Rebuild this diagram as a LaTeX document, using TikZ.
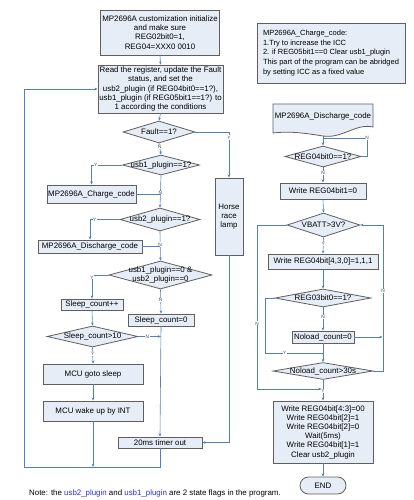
\documentclass[tikz,border=0pt]{standalone}
\usepackage{fontspec}
\setmainfont{Liberation Sans}
\usetikzlibrary{shapes.geometric,arrows.meta}
\definecolor{boxfill}{RGB}{230,237,247}
\definecolor{boxline}{RGB}{95,95,95}
\definecolor{conn}{RGB}{79,129,189}
\definecolor{notecol}{RGB}{45,45,215}
\begin{document}
\begin{tikzpicture}[x=1pt,y=-1pt,
  every node/.style={font=\fontsize{7.9}{9.2}\selectfont},
  box/.style={draw=boxline,fill=boxfill,line width=0.8pt,inner sep=1pt,align=center},
  dia/.style={draw=boxline,fill=boxfill,line width=0.8pt,shape=diamond,inner sep=0pt},
  dtxt/.style={align=center,inner sep=0pt},
  yn/.style={font=\fontsize{4.8}{5}\selectfont,text=black!70,fill=white,inner sep=0.4pt},
  cn/.style={draw=conn,line width=0.6pt},
  arr/.style={cn,-{Stealth[length=3.2pt,width=2.6pt]}}
]
\useasboundingbox (0,0) rectangle (414,500);

% ---------------- left column ----------------
\node[box,minimum width=119pt,minimum height=45pt] (b1) at (160,32.5)
  {MP2696A customization initialize\\and make sure\\REG02bit0=1,\\REG04=XXX0 0010};
\node[box,minimum width=125pt,minimum height=48pt,inner sep=0.5pt] (b2) at (160.5,89)
  {Read the register, update the Fault\\status, and set the\\usb2\_plugin (if REG04bit0==1?),\\usb1\_plugin (if REG05bit1==1?) to\\1 according the conditions};

\node[dia,minimum width=72pt,minimum height=22pt] (f) at (159,132) {};
\node[dtxt] (ft) at (f) {Fault==1?};
\node[dia,minimum width=77pt,minimum height=20pt] (u1) at (161,165) {};
\node[dtxt] (u1t) at (u1) {usb1\_plugin==1?};
\node[box,minimum width=89pt,minimum height=18pt] (cc) at (91.5,194) {MP2696A\_Charge\_code};
\node[dia,minimum width=80pt,minimum height=23pt] (u2) at (160,219.5) {};
\node[dtxt] (u2t) at (u2) {usb2\_plugin==1?};
\node[box,minimum width=104pt,minimum height=13pt] (dc) at (90,246.5) {MP2696A\_Discharge\_code};
\node[dia,minimum width=103pt,minimum height=28pt] (both) at (160.5,275) {};
\node[dtxt] (botht) at (both) {usb1\_plugin==0 \&\\usb2\_plugin==0};
\node[box,minimum width=62pt,minimum height=11pt] (sp) at (92,304.5) {Sleep\_count++};
\node[box,minimum width=66pt,minimum height=12pt] (s0) at (161,320) {Sleep\_count=0};
\node[dia,minimum width=91pt,minimum height=21pt] (sg) at (92.5,336.5) {};
\node[dtxt] (sgt) at (sg) {Sleep\_count>10};
\node[box,minimum width=100pt,minimum height=20pt] (mg) at (93,374) {MCU goto sleep};
\node[box,minimum width=100pt,minimum height=20pt] (mw) at (93,411) {MCU wake up by INT};
\node[box,minimum width=84pt,minimum height=11pt] (t20) at (160,442.5) {20ms timer out};
\node[box,minimum width=28pt,minimum height=77pt] (hr) at (229,216.5) {Horse\\race\\lamp};

\coordinate (lb) at (24,467);

\draw[arr] (b1.south) -- (b2.north);
\draw[arr] (b2.south) -- (f.north);
\draw[arr] (f.south) -- node[yn,pos=0.3]{N} (u1.north);
\draw[arr] (f.east) -| node[yn,pos=0.56]{Y} (hr.north);
\draw[arr] (u1.west) -| node[yn,pos=0.43]{Y} (cc.north);
\draw[arr] (u1.south) -- node[yn,pos=0.55]{N} (u2.north);
\draw[cn] (cc.east) -- (cc.east -| u1.south);
\draw[arr] (u2.west) -| node[yn,pos=0.42]{Y} (dc.north);
\draw[arr] (u2.south) -- node[yn,pos=0.45]{N} (both.north);
\draw[cn] (dc.east) -- (dc.east -| u2.south);
\draw[arr] (both.west) -| node[yn,pos=0.55]{Y} (sp.north);
\draw[arr] (both.south) -- node[yn,pos=0.45]{N} (s0.north);
\draw[arr] (sp.south) -- (sg.north);
\draw[arr] (sg.east) -- node[yn,pos=0.4]{N} (sg.east -| s0.south);
\draw[arr] (sg.south) -- node[yn,pos=0.4]{Y} (mg.north);
\draw[arr] (mg.south) -- (mw.north);
\draw[arr] (s0.south) -- (t20.north);
\draw[arr] (mw.south) -- (mw.south |- lb);
\draw[arr] (t20.south) |- (lb) |- (b2.west);
\draw[arr] (hr.south) |- (t20.east);

% ---------------- right column ----------------
\node[box,align=left,inner sep=1pt,minimum width=148pt,minimum height=60pt,
      font=\fontsize{7.5}{9.8}\selectfont] (note) at (331,53)
  {MP2696A\_Charge\_code:\\1.Try to increase the ICC\\2. if REG05bit1==0 Clear usb1\_plugin\\This part of the program can be abridged\\by setting ICC as a fixed value};

\path[draw=boxline,fill=boxfill,line width=0.8pt]
  (273,104) -- (373,104) -- (373,127)
  .. controls (356,123) and (342,139) .. (323,136)
  .. controls (304,133) and (290,131) .. (273,133) -- cycle;
\node (doc) at (323,116) {MP2696A\_Discharge\_code};
\coordinate (docb) at (323,136);

\node[dia,minimum width=76pt,minimum height=21pt] (r0) at (323,156.5) {};
\node[dtxt] (r0t) at (r0) {REG04bit0==1?};
\node[box,minimum width=86pt,minimum height=16pt] (w1) at (323,191) {Write REG04bit1=0};
\node[dia,minimum width=73pt,minimum height=24pt] (vb) at (323.5,225) {};
\node[dtxt] (vbt) at (vb) {VBATT>3V?};
\node[box,minimum width=110pt,minimum height=15pt] (w2) at (323,261.5) {Write REG04bit[4,3,0]=1,1,1};
\node[dia,minimum width=96pt,minimum height=18pt] (r3) at (323,298) {};
\node[dtxt] (r3t) at (r3) {REG03bit0==1?};
\node[box,minimum width=62pt,minimum height=12pt] (nl) at (323,337) {Noload\_count=0};
\node[dia,minimum width=100pt,minimum height=17pt] (n30) at (323,371) {};
\node[dtxt] (n30t) at (n30) {Noload\_count>30s};
\node[box,minimum width=100pt,minimum height=62pt] (fin) at (323,432)
  {Write REG04bit[4:3]=00\\Write REG04bit[2]=1\\Write REG04bit[2]=0\\Wait(5ms)\\Write REG04bit[1]=1\\Clear usb2\_plugin};
\node[draw=boxline,fill=boxfill,line width=0.8pt,rounded corners=8.5pt,minimum width=46pt,minimum height=17pt,inner sep=1pt] (end) at (323,485.5) {END};

\coordinate (rx) at (383,371);
\coordinate (lx) at (257,389);
\coordinate (yx) at (265,353);

\draw[arr] (docb) -- (r0.north);
\draw[cn] (r0.east) -| (367,138) node[yn]{N} -- (323,138);
\draw[arr] (r0.south) -- node[yn,pos=0.35]{N} (w1.north);
\draw[arr] (w1.south) -- (vb.north);
\draw[arr] (vb.south) -- node[yn,pos=0.4]{Y} (w2.north);
\draw[arr] (w2.south) -- (r3.north);
\draw[arr] (r3.south) -- node[yn,pos=0.4]{N} (nl.north);
\draw[arr] (nl.east) -- ([xshift=-0.5pt]nl.east -| rx);
\draw[arr] (n30.east) -- (rx) -- node[yn,pos=0.55]{N} (rx |- vb.east) -- (vb.east);
\draw[cn] (r3.west) -| (yx) -- node[yn,pos=0.34]{Y} (yx -| nl.south);
\draw[arr] (nl.south) -- (n30.north);
\draw[arr] (vb.west) -| node[yn,pos=0.8]{N} (lx) -- ([xshift=-1.5pt]lx -| fin.north);
\draw[arr] (n30.south) -- node[yn,pos=0.53]{Y} (fin.north);
\draw[arr] (fin.south) -- (end.north);

% ---------------- footnote ----------------
\node[anchor=west,inner sep=0pt] (foot) at (29,493)
  {Note: the \textcolor{notecol}{usb2\_plugin} and \textcolor{notecol}{usb1\_plugin} are 2 state flags in the program.};
\end{tikzpicture}
\end{document}
